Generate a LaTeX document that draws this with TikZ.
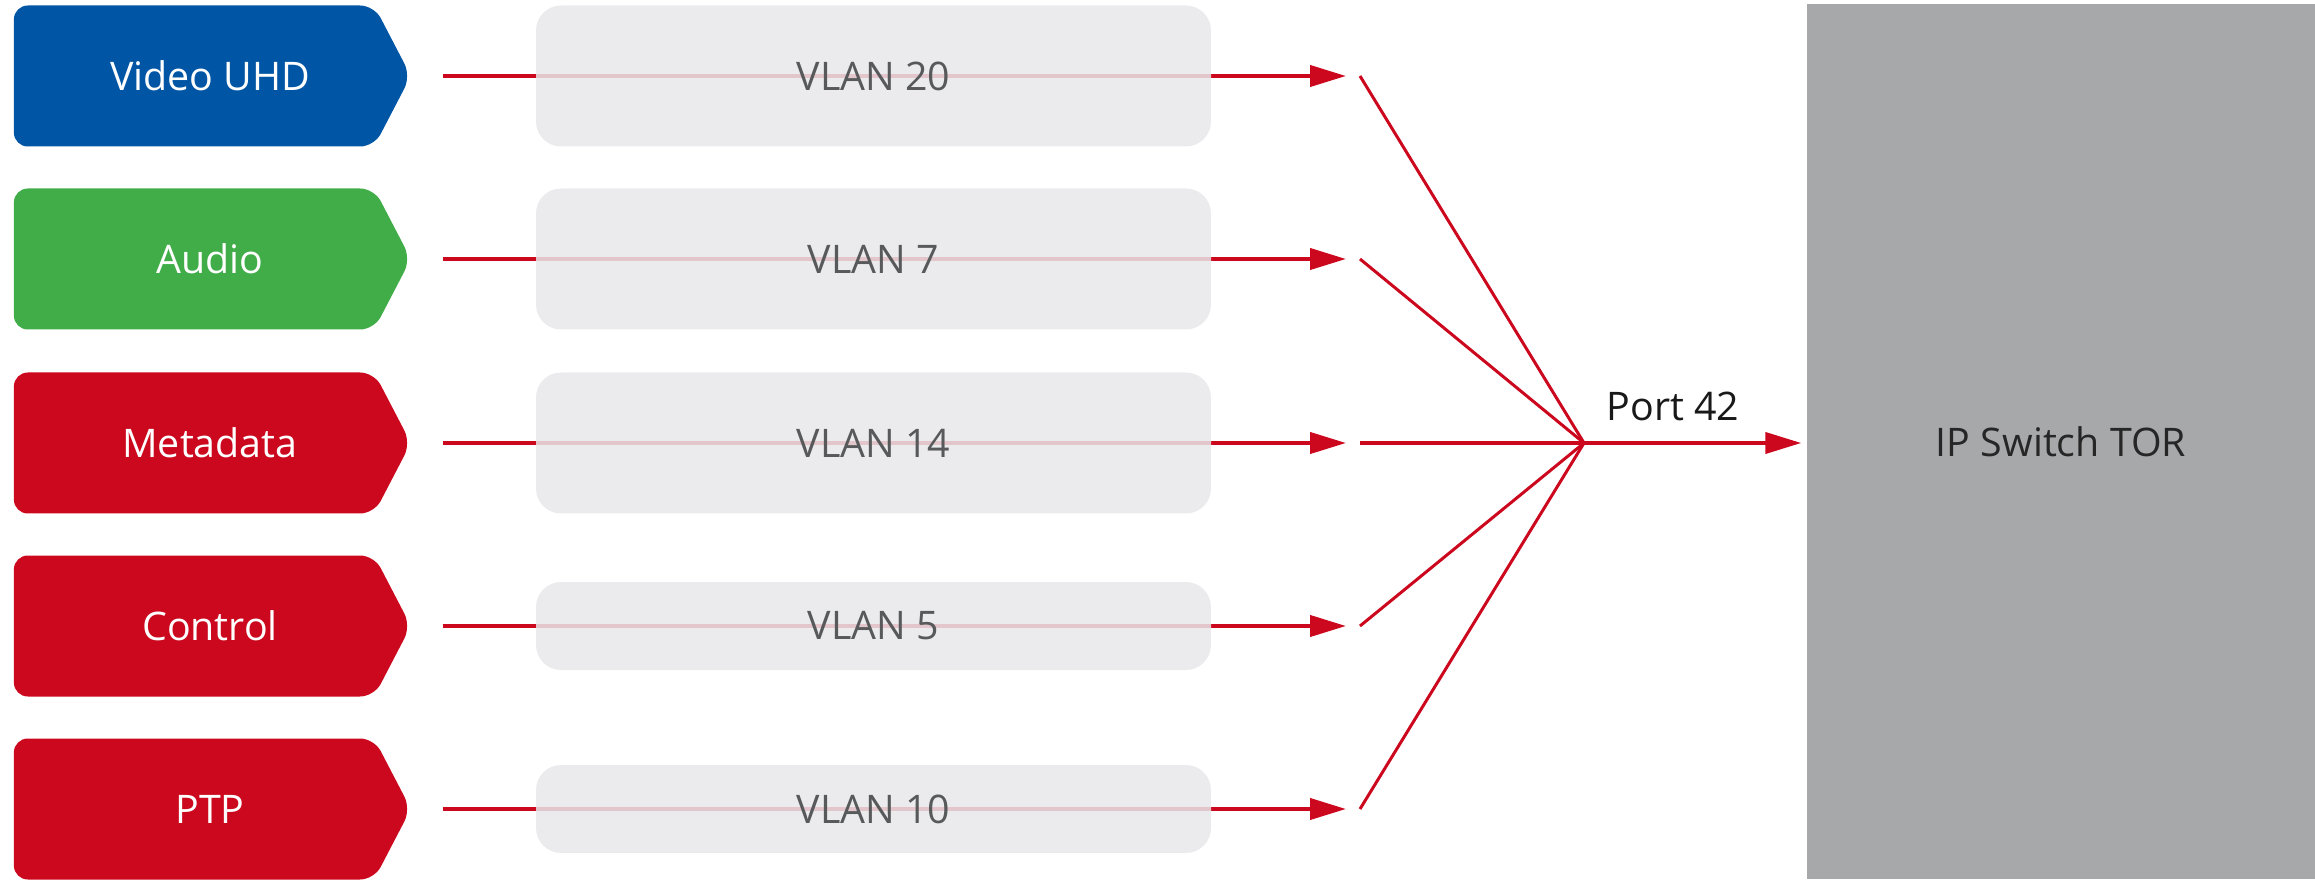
\documentclass[tikz,border=0pt]{standalone}
\usepackage{fontspec}
\setmainfont{Open Sans}
\usetikzlibrary{arrows.meta,positioning,shapes.symbols}

\definecolor{uhdblue}{RGB}{0,85,165}
\definecolor{audiogreen}{RGB}{64,173,72}
\definecolor{tagred}{RGB}{204,8,30}
\definecolor{vlangray}{RGB}{231,232,234}
\definecolor{switchgray}{RGB}{167,168,170}
\definecolor{vlantext}{RGB}{88,89,91}

\begin{document}
\begin{tikzpicture}[x=0.1mm,y=0.1mm,
    src/.style={shape=signal, signal to=east, signal pointer angle=125,
        minimum width=39.7mm, minimum height=14.1mm, inner sep=0pt,
        rounded corners=1.4mm, text=white},
    vlan/.style={fill=vlangray, fill opacity=0.85, text opacity=1,
        rounded corners=2.5mm, minimum width=67.5mm, inner sep=0pt, text=vlantext},
    flow/.style={draw=tagred, line width=0.4mm, -{Triangle[length=3.6mm,width=2.1mm]}},
    fan/.style={draw=tagred, line width=0.3mm},
    font=\fontsize{11.2}{13.5}\selectfont]

\useasboundingbox (0,0) rectangle (2315,879);

% traffic sources
\node[src, fill=uhdblue]    (video) at (194,803) {\hspace*{3.2mm}Video UHD};
\node[src, fill=audiogreen] (audio) at (194,620) {\hspace*{3.2mm}Audio};
\node[src, fill=tagred]     (meta)  at (194,436) {\hspace*{3.2mm}Metadata};
\node[src, fill=tagred]     (ctrl)  at (194,253) {\hspace*{3.2mm}Control};
\node[src, fill=tagred]     (ptp)   at (194,70)  {\hspace*{3.2mm}PTP};

% arrow ends and fan-in
\coordinate (o1) at (1346,803);
\coordinate (o2) at (1346,620);
\coordinate (o3) at (1346,436);
\coordinate (o4) at (1346,253);
\coordinate (o5) at (1346,70);
\coordinate (f1) at (1360,803);
\coordinate (f2) at (1360,620);
\coordinate (f3) at (1360,436);
\coordinate (f4) at (1360,253);
\coordinate (f5) at (1360,70);
\coordinate (hub) at (1584,436);

\draw[flow, shorten <=3.1mm] (video.east) -- (o1);
\draw[flow, shorten <=3.1mm] (audio.east) -- (o2);
\draw[flow, shorten <=3.1mm] (meta.east)  -- (o3);
\draw[flow, shorten <=3.1mm] (ctrl.east)  -- (o4);
\draw[flow, shorten <=3.1mm] (ptp.east)   -- (o5);

% vlan tags
\node[vlan, minimum height=14.1mm] (v20) at (873.5,803) {VLAN 20};
\node[vlan, minimum height=14.1mm] (v7)  at (873.5,620) {VLAN 7};
\node[vlan, minimum height=14.1mm] (v14) at (873.5,436) {VLAN 14};
\node[vlan, minimum height=8.8mm]  (v5)  at (873.5,253) {VLAN 5};
\node[vlan, minimum height=8.8mm]  (v10) at (873.5,70)  {VLAN 10};

\draw[fan] (f1) -- (hub);
\draw[fan] (f2) -- (hub);
\draw[fan, line width=0.4mm] (f3) -- (hub);
\draw[fan] (f4) -- (hub);
\draw[fan] (f5) -- (hub);

% switch
\node[fill=switchgray, minimum width=50.8mm, minimum height=87.5mm, inner sep=0pt,
    text=black!85] (switch) at (2061,437.5) {IP Switch TOR};

\draw[flow, shorten >=0.5mm] (hub) -- (hub -| switch.west)
    node[pos=0.4, above=0.8mm, text=black!90] {Port 42};
\end{tikzpicture}
\end{document}
